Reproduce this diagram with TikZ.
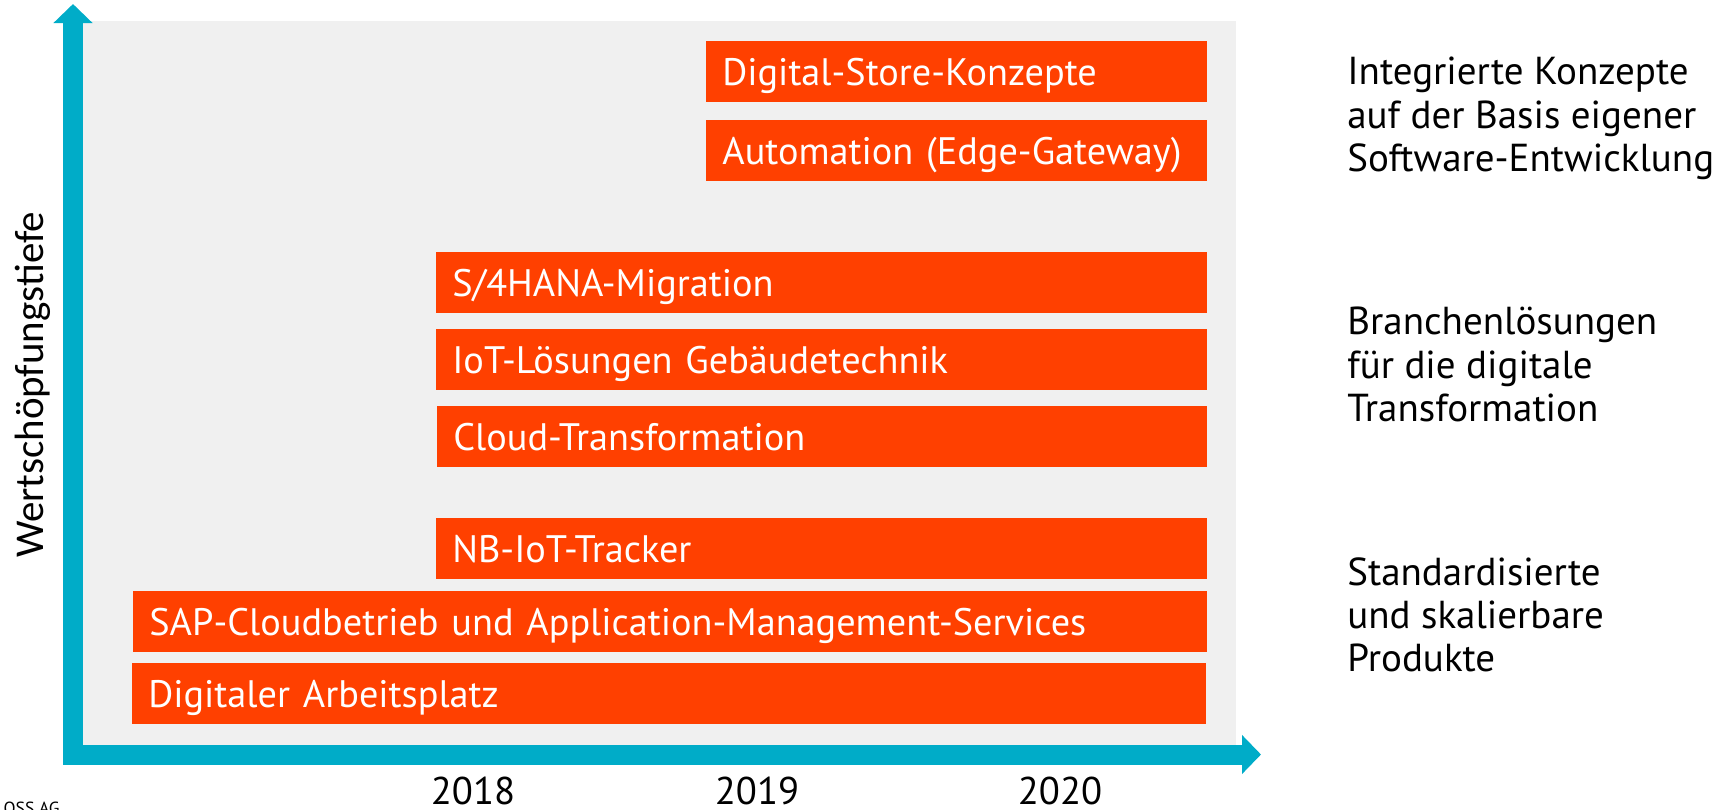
\documentclass[tikz,border=0pt]{standalone}
\usepackage{fontspec}
\setmainfont{PT Sans}
\newfontfamily\axisfont{Carlito}
\usetikzlibrary{arrows.meta}

\definecolor{barred}{RGB}{255,64,0}
\definecolor{axisblue}{RGB}{0,172,200}
\definecolor{panelgray}{RGB}{240,240,240}

\begin{document}
\begin{tikzpicture}[x=0.02cm, y=-0.02cm,
	bar/.style={fill=barred, text=white, anchor=west, inner xsep=0.32cm, inner ysep=0pt,
		minimum height=1.22cm, text height=0.54cm, text depth=0pt, align=left,
		font=\fontsize{21.8pt}{26pt}\selectfont},
	note/.style={anchor=north west, inner sep=0pt, align=left, font=\fontsize{22.2pt}{24.6pt}\selectfont},
	year/.style={anchor=base, inner sep=0pt, text depth=0pt, font=\fontsize{22pt}{26pt}\selectfont}]
	\useasboundingbox (0,0) rectangle (1725,809);
	\clip (0,0) rectangle (1725,809);
	\fill[panelgray] (83,21) rectangle (1236,745);
	% axes
	\draw[axisblue, line width=0.4cm, line join=miter,
		{Triangle[length=0.38cm, width=0.76cm]}-{Triangle[length=0.38cm, width=0.76cm]}]
		(73,4) |- (1261,754.5);
	% bars, top to bottom
	\node[bar, text width=9.38cm] (store) at (706,71.5) {Digital-Store-Konzepte};
	\node[bar, text width=9.38cm] (edge) at (706,150.5) {Automation (Edge-Gateway)};
	\node[bar, text width=14.78cm] (hana) at (436,282.5) {S/4HANA-Migration};
	\node[bar, text width=14.78cm] (iot) at (436,359.5) {IoT-Lösungen Gebäudetechnik};
	\node[bar, text width=14.76cm] (cloud) at (437,436.5) {Cloud-Transformation};
	\node[bar, text width=14.78cm] (tracker) at (436,548.5) {NB-IoT-Tracker};
	\node[bar, text width=20.84cm] (sap) at (133,621.5) {SAP-Cloudbetrieb und Application-Management-Services};
	\node[bar, text width=20.84cm] (work) at (132,693.5) {Digitaler Arbeitsplatz};
	% levels on the right
	\node[note] (integ) at (1347,57) {Integrierte Konzepte\\auf der Basis eigener\\Software-Entwicklung};
	\node[note] (branch) at (1347,307) {Branchenlösungen\\für die digitale\\Transformation};
	\node[note] (std) at (1347,557) {Standardisierte\\und skalierbare\\Produkte};
	% time axis
	\node[year] (y18) at (473,804) {2018};
	\node[year] (y19) at (757,804) {2019};
	\node[year] (y20) at (1060,804) {2020};
	\node[anchor=base, rotate=90, inner sep=0pt, font=\axisfont\fontsize{23.3pt}{28pt}\selectfont] (depth) at (43,385) {Wertschöpfungstiefe};
	\node[anchor=north east, inner sep=0pt, font=\fontsize{10pt}{12pt}\selectfont] (corp) at (60,802) {OSS AG};
\end{tikzpicture}
\end{document}
